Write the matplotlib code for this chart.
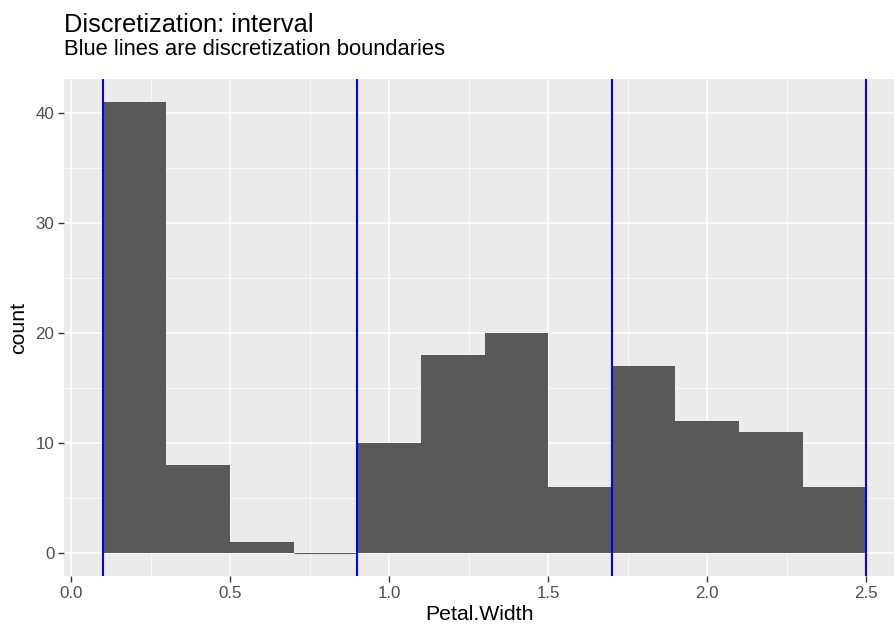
import numpy as np
import matplotlib.pyplot as plt

plt.rcParams['font.family'] = ['Liberation Sans', 'DejaVu Sans']

# histogram of Petal.Width (bin width 0.2)
bin_edges = [0.1, 0.3, 0.5, 0.7, 0.9, 1.1, 1.3, 1.5, 1.7, 1.9, 2.1, 2.3, 2.5]
counts = [41, 8, 1, 0, 10, 18, 20, 6, 17, 12, 11, 6]
boundaries = [0.1, 0.9, 1.7, 2.5]

x_ticks = [0.0, 0.5, 1.0, 1.5, 2.0, 2.5]
x_labels = ['0.0', '0.5', '1.0', '1.5', '2.0', '2.5']
y_ticks = [0, 10, 20, 30, 40]

W, H = 895, 626
fig = plt.figure(figsize=(W / 100, H / 100), dpi=100)
left, right, top, bottom = 64, 895, 79, 576
ax = fig.add_axes([left / W, 1 - bottom / H, (right - left) / W, (bottom - top) / H])
ax.set_facecolor('#EBEBEB')

lefts = np.array(bin_edges[:-1])
widths = np.diff(bin_edges)
# empty bins still show a hairline at zero, like ggplot
lws = [0.8 if c == 0 else 0 for c in counts]
ax.bar(lefts, counts, width=widths, align='edge', color='#595959',
       edgecolor='#595959', linewidth=lws, zorder=2)
for b in boundaries:
    ax.axvline(b, color='#0000FF', linewidth=1.5, zorder=3)

ax.set_xlim(-0.022, 2.59)
ax.set_ylim(-2.05, 43.05)
ax.set_xticks(x_ticks)
ax.set_xticklabels(x_labels)
ax.set_yticks(y_ticks)
ax.set_xticks([0.25, 0.75, 1.25, 1.75, 2.25], minor=True)
ax.set_yticks([5, 15, 25, 35], minor=True)
ax.grid(which='major', color='white', linewidth=1.1, zorder=0)
ax.grid(which='minor', color='white', linewidth=0.55, zorder=0)
ax.set_axisbelow(True)
for s in ax.spines.values():
    s.set_visible(False)
ax.tick_params(which='major', length=4, width=1, color='#333333',
               labelsize=12.2, labelcolor='#4D4D4D', pad=3)
ax.tick_params(which='minor', length=0)

ax.set_xlabel('Petal.Width', fontsize=15.3, color='black', labelpad=3)
ax.set_ylabel('count', fontsize=15.3, color='black', labelpad=5)

fig.text(left / W, 1 - 32 / H, 'Discretization: interval', fontsize=18.3,
         ha='left', va='baseline')
fig.text(left / W, 1 - 55 / H, 'Blue lines are discretization boundaries',
         fontsize=15.8, ha='left', va='baseline')

fig.savefig('out.png', dpi=100)
